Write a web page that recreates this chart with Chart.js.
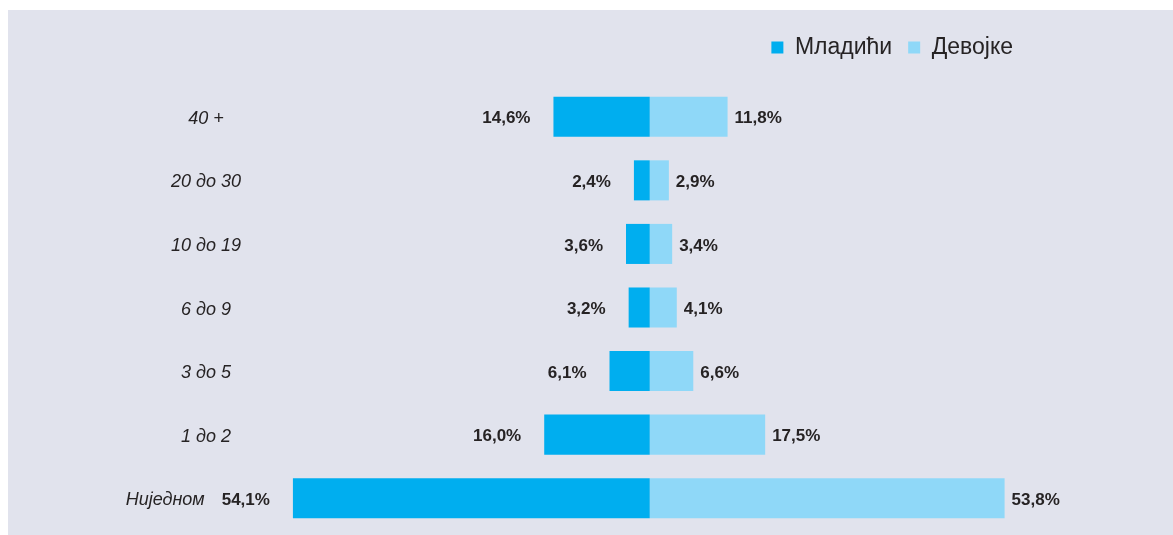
<!DOCTYPE html>
<html>
<head>
<meta charset="utf-8">
<script src="https://cdn.jsdelivr.net/npm/chart.js"></script>
<style>
  html, body { margin: 0; padding: 0; background: #ffffff; }
  #panel {
    position: absolute; left: 8px; top: 10px;
    width: 1165px; height: 525px;
    background: #e1e3ed;
  }
</style>
</head>
<body>
<div id="panel"><canvas id="ageChart" width="1165" height="525"></canvas></div>
<script>
// categories, top to bottom
const categories = ["40 +", "20 до 30", "10 до 19", "6 до 9", "3 до 5", "1 до 2", "Ниједном"];
// percentages per group
const mladici = [14.6, 2.4, 3.6, 3.2, 6.1, 16.0, 54.1];
const devojke = [11.8, 2.9, 3.4, 4.1, 6.6, 17.5, 53.8];
const seriesNames = ["Младићи", "Девојке"];

const textColor = "#262324";
const fontFamily = "'Liberation Sans', Arial, sans-serif";

function fmt(v) {
    return Math.abs(v).toFixed(1).replace(".", ",") + "%";
}

// === VALUE + CATEGORY LABELS ===
const labelPlugin = {
    id: "labelPlugin",
    afterDatasetsDraw(chart) {
        const ctx = chart.ctx;
        const yScale = chart.scales.y;
        const left = chart.getDatasetMeta(0).data;
        const right = chart.getDatasetMeta(1).data;
        ctx.save();
        ctx.fillStyle = textColor;
        ctx.textBaseline = "middle";

        categories.forEach((cat, i) => {
            const y = yScale.getPixelForValue(i) + 2;

            // value labels
            ctx.font = "bold 17px " + fontFamily;
            ctx.textAlign = "right";
            const leftX = left[i].x - 23;
            ctx.fillText(fmt(mladici[i]), leftX, y);
            const leftLabelStart = leftX - ctx.measureText(fmt(mladici[i])).width;

            ctx.textAlign = "left";
            ctx.fillText(fmt(devojke[i]), right[i].x + 7, y);

            // category label, centred but kept clear of the value label
            ctx.font = "italic 18px " + fontFamily;
            const w = ctx.measureText(cat).width;
            let cx = chart.chartArea.left - 48;
            if (cx + w / 2 > leftLabelStart - 17) cx = leftLabelStart - 17 - w / 2;
            ctx.textAlign = "center";
            ctx.fillText(cat, cx, y);
        });
        ctx.restore();
    }
};

new Chart(document.getElementById("ageChart"), {
    type: "bar",
    data: {
        labels: categories,
        datasets: [
            {
                label: seriesNames[0],
                data: mladici.map(v => -v),
                backgroundColor: "#00aeef",
                borderWidth: 0,
                barPercentage: 0.63,
                categoryPercentage: 1
            },
            {
                label: seriesNames[1],
                data: devojke,
                backgroundColor: "#8fd8f8",
                borderWidth: 0,
                barPercentage: 0.63,
                categoryPercentage: 1
            }
        ]
    },
    options: {
        indexAxis: "y",
        responsive: false,
        animation: false,
        layout: { padding: { top: 10, right: 144, bottom: 5, left: 246 } },
        scales: {
            x: {
                stacked: true,
                position: "top",
                min: -60,
                max: 57.5,
                grid: { display: false },
                border: { display: false },
                ticks: { display: false },
                // empty strip between legend and bars
                afterFit(scale) { scale.height = 16; }
            },
            y: { stacked: true, display: false }
        },
        plugins: {
            legend: {
                position: "top",
                align: "end",
                labels: {
                    boxWidth: 12,
                    boxHeight: 12,
                    padding: 16,
                    color: textColor,
                    font: { family: fontFamily, size: 23 }
                }
            },
            tooltip: { enabled: false }
        }
    },
    plugins: [labelPlugin]
});
</script>
</body>
</html>
